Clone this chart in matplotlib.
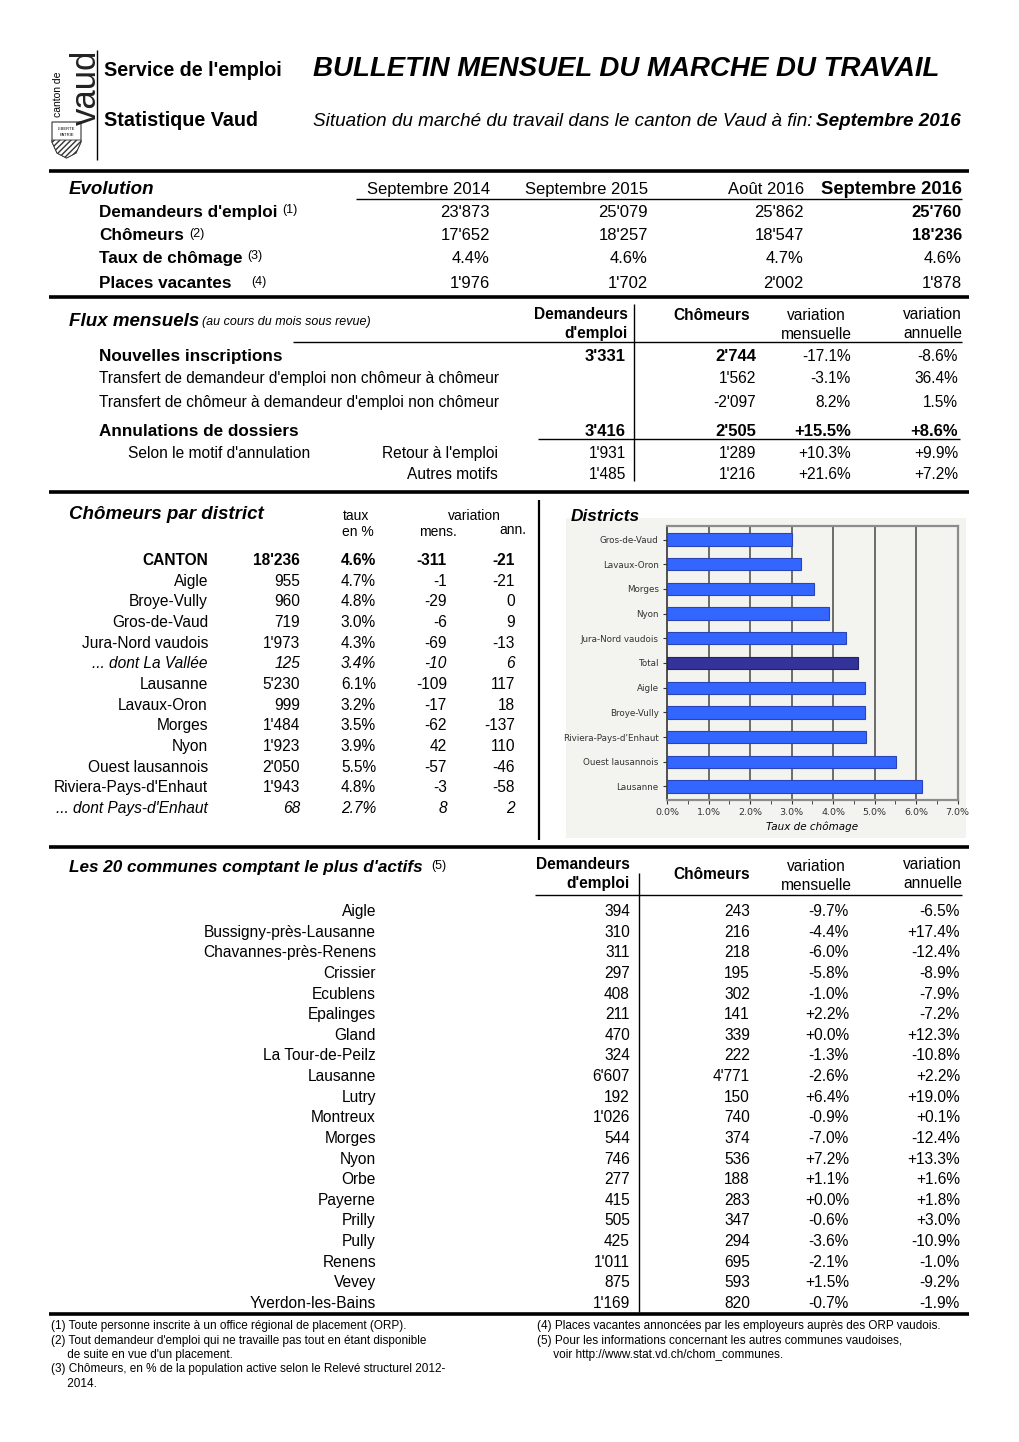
import matplotlib
matplotlib.use("Agg")
import matplotlib.pyplot as plt
from matplotlib.patches import Rectangle, Polygon

plt.rcParams["font.family"] = ["Liberation Sans", "DejaVu Sans"]

# ---- data ----
evo_cols = ["Septembre 2014", "Septembre 2015", "Août 2016", "Septembre 2016"]
evo_labels = ["Demandeurs d'emploi", "Chômeurs", "Taux de chômage", "Places vacantes"]
evo_notes = ["(1)", "(2)", "(3)", "(4)"]
evo_demandeurs = [23873, 25079, 25862, 25760]
evo_chomeurs = [17652, 18257, 18547, 18236]
evo_taux = [4.4, 4.6, 4.7, 4.6]
evo_places = [1976, 1702, 2002, 1878]

flux_labels = ["Nouvelles inscriptions",
               "Transfert de demandeur d'emploi non chômeur à chômeur",
               "Transfert de chômeur à demandeur d'emploi non chômeur",
               "Annulations de dossiers", "Retour à l'emploi", "Autres motifs"]
flux_dem = [3331, None, None, 3416, 1931, 1485]
flux_cho = [2744, 1562, -2097, 2505, 1289, 1216]
flux_mens = [-17.1, -3.1, 8.2, 15.5, 10.3, 21.6]
flux_ann = [-8.6, 36.4, 1.5, 8.6, 9.9, 7.2]

districts = ["CANTON", "Aigle", "Broye-Vully", "Gros-de-Vaud", "Jura-Nord vaudois",
             "... dont La Vallée", "Lausanne", "Lavaux-Oron", "Morges", "Nyon",
             "Ouest lausannois", "Riviera-Pays-d'Enhaut", "... dont Pays-d'Enhaut"]
dist_chom = [18236, 955, 960, 719, 1973, 125, 5230, 999, 1484, 1923, 2050, 1943, 68]
dist_taux = [4.6, 4.7, 4.8, 3.0, 4.3, 3.4, 6.1, 3.2, 3.5, 3.9, 5.5, 4.8, 2.7]
dist_mens = [-311, -1, -29, -6, -69, -10, -109, -17, -62, 42, -57, -3, 8]
dist_ann = [-21, -21, 0, 9, -13, 6, 117, 18, -137, 110, -46, -58, 2]

chart_labels = ["Gros-de-Vaud", "Lavaux-Oron", "Morges", "Nyon", "Jura-Nord vaudois",
                "Total", "Aigle", "Broye-Vully", "Riviera-Pays-d'Enhaut",
                "Ouest lausannois", "Lausanne"]
chart_taux = [3.02, 3.23, 3.53, 3.90, 4.32, 4.61, 4.76, 4.76, 4.80, 5.51, 6.13]

communes = ["Aigle", "Bussigny-près-Lausanne", "Chavannes-près-Renens", "Crissier",
            "Ecublens", "Epalinges", "Gland", "La Tour-de-Peilz", "Lausanne", "Lutry",
            "Montreux", "Morges", "Nyon", "Orbe", "Payerne", "Prilly", "Pully",
            "Renens", "Vevey", "Yverdon-les-Bains"]
com_dem = [394, 310, 311, 297, 408, 211, 470, 324, 6607, 192,
           1026, 544, 746, 277, 415, 505, 425, 1011, 875, 1169]
com_cho = [243, 216, 218, 195, 302, 141, 339, 222, 4771, 150,
           740, 374, 536, 188, 283, 347, 294, 695, 593, 820]
com_mens = [-9.7, -4.4, -6.0, -5.8, -1.0, 2.2, 0.0, -1.3, -2.6, 6.4,
            -0.9, -7.0, 7.2, 1.1, 0.0, -0.6, -3.6, -2.1, 1.5, -0.7]
com_ann = [-6.5, 17.4, -12.4, -8.9, -7.9, -7.2, 12.3, -10.8, 2.2, 19.0,
           0.1, -12.4, 13.3, 1.6, 1.8, 3.0, -10.9, -1.0, -9.2, -1.9]

notes_left = ["(1) Toute personne inscrite à un office régional de placement (ORP).",
              "(2) Tout demandeur d'emploi qui ne travaille pas tout en étant disponible",
              "     de suite en vue d'un placement.",
              "(3) Chômeurs, en % de la population active selon le Relevé structurel 2012-",
              "     2014."]
notes_right = ["(4) Places vacantes annoncées par les employeurs auprès des ORP vaudois.",
               "(5) Pour les informations concernant les autres communes vaudoises,",
               "     voir http://www.stat.vd.ch/chom_communes."]


def n(v):
    return f"{v:,}".replace(",", "'")


def pct(v, signed=False):
    return f"{v:+.1f}%" if signed else f"{v:.1f}%"


fig = plt.figure(figsize=(10.2, 14.42), dpi=100)
ax = fig.add_axes([0, 0, 1, 1])
ax.set_xlim(0, 1020)
ax.set_ylim(1442, 0)
ax.axis("off")
renderer = fig.canvas.get_renderer()


def txt(x, y, s, size=11.2, weight="normal", style="normal", ha="left", **kw):
    return ax.text(x, y + 1.5, s, fontsize=size, fontweight=weight, fontstyle=style,
                   ha=ha, va="center", **kw)


def after(t, s, dx=4, dy=-2, size=9, **kw):
    bb = t.get_window_extent(renderer=renderer)
    return txt(bb.x1 + dx, t.get_position()[1] - 1.5 + dy, s, size=size, **kw)


def hline(y, x0, x1, lw=1.0):
    ax.plot([x0, x1], [y, y], color="black", lw=lw, solid_capstyle="butt")


def vline(x, y0, y1, lw=1.0):
    ax.plot([x, x], [y0, y1], color="black", lw=lw, solid_capstyle="butt")


# ---- header ----
txt(53, 93, "canton de", size=7.5, rotation=90)
txt(70, 86, "vaud", size=25, rotation=90, color="#222222")
ax.add_patch(Polygon([(52, 122), (81, 122), (81, 142), (76, 153), (66.5, 158),
                      (57, 153), (52, 142)], closed=True, fc="white", ec="#333333", lw=0.8))
ax.add_patch(Polygon([(52, 140), (81, 140), (81, 142), (76, 153), (66.5, 158),
                      (57, 153), (52, 142)], closed=True, fc="white", ec="#333333",
                     lw=0.6, hatch="//////"))
txt(66.5, 127, "LIBERTE", size=3, ha="center")
txt(66.5, 134, "PATRIE", size=3, ha="center")
vline(97, 50, 160, lw=1.0)
txt(104, 69, "Service de l'emploi", size=14.2, weight="bold")
txt(104, 119, "Statistique Vaud", size=14.2, weight="bold")
txt(313, 67, "BULLETIN MENSUEL DU MARCHE DU TRAVAIL", size=19.9, weight="bold", style="italic")
t = txt(961, 120, "Septembre 2016", size=13.6, weight="bold", style="italic", ha="right")
bb = t.get_window_extent(renderer=renderer)
txt(bb.x0 - 4, 120, "Situation du marché du travail dans le canton de Vaud à fin:",
    size=13.6, style="italic", ha="right")

# ---- evolution ----
hline(171, 49, 969, lw=2.6)
txt(69, 188, "Evolution", size=13.5, weight="bold", style="italic")
col_x = [490, 648, 804, 962]
for i, c in enumerate(evo_cols):
    txt(col_x[i], 188, c, size=13.2 if i == 3 else 12,
        weight="bold" if i == 3 else "normal", ha="right")
hline(199, 356, 962)
evo_rows = [[n(v) for v in evo_demandeurs], [n(v) for v in evo_chomeurs],
            [pct(v) for v in evo_taux], [n(v) for v in evo_places]]
evo_y = [211, 234, 257, 282]
for r, lab in enumerate(evo_labels):
    t = txt(99, evo_y[r], lab, size=12.3, weight="bold")
    after(t, evo_notes[r], dx=20 if r == 3 else 5, size=9)
    for i, v in enumerate(evo_rows[r]):
        txt(col_x[i], evo_y[r], v, size=12, ha="right",
            weight="bold" if (i == 3 and r < 2) else "normal")

# ---- flux ----
hline(297, 49, 969, lw=2.6)
t = txt(69, 320, "Flux mensuels", size=13.5, weight="bold", style="italic")
after(t, "(au cours du mois sous revue)", dx=3, dy=1, size=9, style="italic")
txt(628, 313, "Demandeurs", size=11.2, weight="bold", ha="right")
txt(628, 332, "d'emploi", size=11.2, weight="bold", ha="right")
txt(712, 314, "Chômeurs", size=11.2, weight="bold", ha="center")
txt(816, 314, "variation", size=11.2, ha="center")
txt(816, 333, "mensuelle", size=11.2, ha="center")
txt(962, 313, "variation", size=11.2, ha="right")
txt(962, 332, "annuelle", size=11.2, ha="right")
vline(634, 304, 481)
hline(342, 293, 962)
hline(439, 538, 960)
flux_y = [355, 377, 401, 430, 452, 473]
for r, lab in enumerate(flux_labels):
    y = flux_y[r]
    bold = r in (0, 3)
    w = "bold" if bold else "normal"
    sz = 12 if bold else 11.2
    if r < 4:
        txt(99, y, lab, size=12.3 if bold else 11.2, weight=w)
    else:
        txt(498, y, lab, size=11.2, ha="right")
    if flux_dem[r] is not None:
        txt(626, y, n(flux_dem[r]), size=sz, ha="right", weight=w)
    txt(756, y, n(flux_cho[r]), size=sz, ha="right", weight=w)
    pw = "bold" if r == 3 else "normal"
    psz = 12 if r == 3 else 11.2
    txt(851, y, pct(flux_mens[r], r >= 3), size=psz, ha="right", weight=pw)
    txt(958, y, pct(flux_ann[r], r >= 3), size=psz, ha="right", weight=pw)
txt(128, 452, "Selon le motif d'annulation", size=11.2)

# ---- districts table ----
hline(492, 49, 969, lw=2.6)
vline(539, 500, 840, lw=1.6)
txt(69, 513, "Chômeurs par district", size=13.5, weight="bold", style="italic")
txt(356, 515, "taux", size=10, ha="center")
txt(358, 531, "en %", size=10, ha="center")
txt(474, 514, "variation", size=10, ha="center")
txt(438, 531, "mens.", size=10, ha="center")
txt(513, 529, "ann.", size=10, ha="center")
for r, name in enumerate(districts):
    y = 559 + r * 20.65
    w = "bold" if r == 0 else "normal"
    st = "italic" if name.startswith("...") else "normal"
    kw = dict(size=11.2, weight=w, style=st, ha="right")
    txt(208, y, name, **kw)
    txt(300, y, n(dist_chom[r]), **kw)
    txt(376, y, pct(dist_taux[r]), **kw)
    txt(447, y, n(dist_mens[r]), **kw)
    txt(515, y, n(dist_ann[r]), **kw)

# ---- districts chart ----
ax.add_patch(Rectangle((566, 518), 400, 320, fc="#f3f3ef", ec="none"))
txt(571, 515, "Districts", size=12.4, weight="bold", style="italic")
cax = fig.add_axes([667 / 1020, 1 - 800 / 1442, 290.7 / 1020, 274 / 1442])
cax.set_facecolor("#f3f3ef")
colors = ["#333399" if lab == "Total" else "#3366ff" for lab in chart_labels]
edges = ["#22226a" if lab == "Total" else "#2a44b8" for lab in chart_labels]
cax.barh(range(len(chart_labels)), chart_taux, height=0.5, color=colors,
         edgecolor=edges, linewidth=0.8, zorder=3)
cax.set_xlim(0, 7)
cax.set_ylim(len(chart_labels) - 0.45, -0.55)
cax.set_yticks(range(len(chart_labels)))
cax.set_yticklabels(chart_labels, fontsize=6.3, family="DejaVu Sans", color="#333333")
cax.set_xticks(range(8))
cax.set_xticklabels([f"{v:.1f}%" for v in range(8)], fontsize=6.8,
                    family="DejaVu Sans", color="#333333")
cax.set_xticks([v + 0.5 for v in range(7)], minor=True)
cax.tick_params(axis="y", length=3, color="#333333", pad=3)
cax.tick_params(axis="x", which="both", length=3, color="#333333", pad=3)
for v in range(1, 7):
    cax.axvline(v, color="#555555", lw=1.2, zorder=1)
for side in ["top", "right", "bottom"]:
    cax.spines[side].set_color("#8c8c8c")
    cax.spines[side].set_linewidth(1.6)
cax.spines["left"].set_color("#333333")
cax.spines["left"].set_linewidth(1.2)
cax.set_xlabel("Taux de chômage", fontsize=7.5, family="DejaVu Sans", style="italic",
               labelpad=3)

# ---- communes ----
hline(847, 49, 969, lw=2.6)
t = txt(69, 866, "Les 20 communes comptant le plus d'actifs", size=12.3,
        weight="bold", style="italic")
after(t, "(5)", dx=9, size=9)
txt(630, 863, "Demandeurs", size=11.2, weight="bold", ha="right")
txt(630, 882, "d'emploi", size=11.2, weight="bold", ha="right")
txt(712, 873, "Chômeurs", size=11.2, weight="bold", ha="center")
txt(816, 865, "variation", size=11.2, ha="center")
txt(816, 884, "mensuelle", size=11.2, ha="center")
txt(962, 863, "variation", size=11.2, ha="right")
txt(962, 882, "annuelle", size=11.2, ha="right")
vline(639, 873, 1312)
hline(895, 535, 962)
for r, name in enumerate(communes):
    y = 910 + r * 20.63
    txt(376, y, name, ha="right")
    txt(630, y, n(com_dem[r]), ha="right")
    txt(750, y, n(com_cho[r]), ha="right")
    txt(849, y, pct(com_mens[r], True), ha="right")
    txt(960, y, pct(com_ann[r], True), ha="right")
hline(1314, 49, 969, lw=2.6)

# ---- footnotes ----
for i, s in enumerate(notes_left):
    txt(51, 1325 + i * 14.3, s, size=8.5)
for i, s in enumerate(notes_right):
    txt(537, 1325 + i * 14.3, s, size=8.5)

fig.savefig("out.png", dpi=100)
